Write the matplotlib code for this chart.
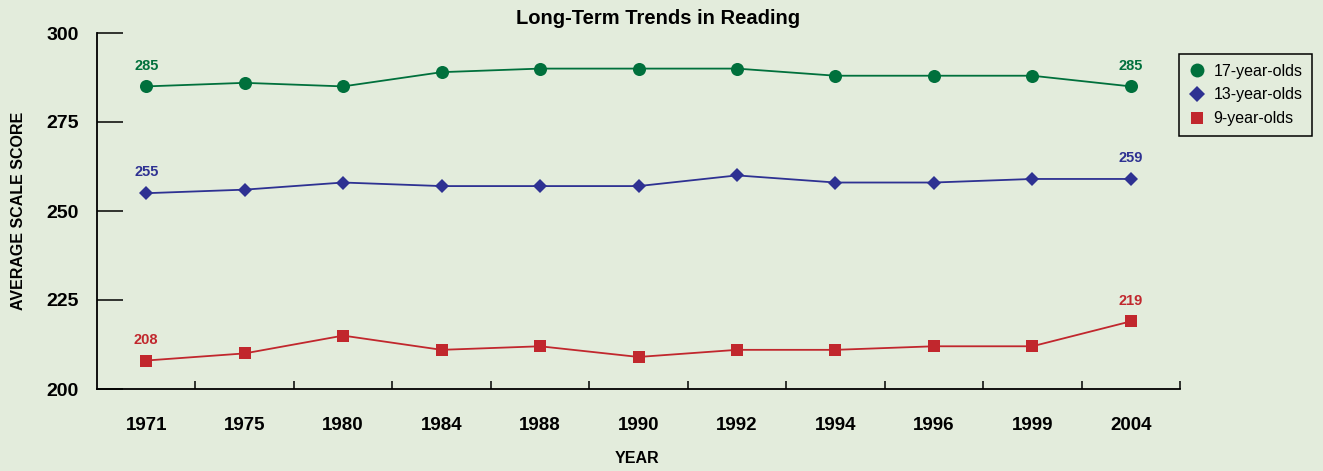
import matplotlib
matplotlib.use("Agg")
import matplotlib.pyplot as plt
from matplotlib.lines import Line2D

plt.rcParams['font.family'] = ['Liberation Sans', 'DejaVu Sans']

# data
years = ['1971', '1975', '1980', '1984', '1988', '1990', '1992', '1994', '1996', '1999', '2004']
age17 = [285, 286, 285, 289, 290, 290, 290, 288, 288, 288, 285]
age13 = [255, 256, 258, 257, 257, 257, 260, 258, 258, 259, 259]
age9 = [208, 210, 215, 211, 212, 209, 211, 211, 212, 212, 219]
series_names = ['17-year-olds', '13-year-olds', '9-year-olds']

bg = '#e3ecdc'
green = '#00703c'
blue = '#2e3192'
red = '#c1272d'

fig = plt.figure(figsize=(13.23, 4.71), dpi=100, facecolor=bg)
ax = fig.add_axes([97 / 1323, 1 - 389 / 471, (1180 - 97) / 1323, (389 - 33) / 471])
ax.set_facecolor(bg)

x = list(range(len(years)))
styles = [(age17, green, 'o', 9.4), (age13, blue, 'D', 7.0), (age9, red, 's', 8.6)]
for vals, col, mk, ms in styles:
    ax.plot(x, vals, color=col, lw=1.3, marker=mk, markersize=ms,
            markeredgewidth=0, zorder=3)
    # label first and last point
    for i in (0, len(vals) - 1):
        ax.annotate(str(vals[i]), (x[i], vals[i]), xytext=(0, 15),
                    textcoords='offset points', ha='center', va='center',
                    color=col, fontsize=10.5, fontweight='bold')

ax.set_xlim(-0.5, len(years) - 0.5)
ax.set_ylim(200, 300)

ax.spines['top'].set_visible(False)
ax.spines['right'].set_visible(False)
ax.spines['left'].set_linewidth(1.3)
ax.spines['bottom'].set_linewidth(1.3)

# y ticks pointing into the plot
ax.set_yticks([200, 225, 250, 275, 300])
ax.tick_params(axis='y', direction='in', length=18.7, width=1.1, pad=13,
               labelsize=14)
for lab in ax.get_yticklabels():
    lab.set_fontweight('bold')

# x: small ticks on category borders, labels at category centres
ax.set_xticks([i + 0.5 for i in x])
ax.tick_params(axis='x', which='major', direction='in', length=5.8, width=1.1,
               labelbottom=False)
ax.set_xticks(x, minor=True)
ax.set_xticklabels(years, minor=True, fontsize=13.5, fontweight='bold')
ax.tick_params(axis='x', which='minor', length=0, pad=20)

ax.set_ylabel('AVERAGE SCALE SCORE', fontsize=11.5, fontweight='bold')
ax.yaxis.set_label_coords((26 - 97) / 1083, 0.5)
ax.set_xlabel('YEAR', fontsize=11.5, fontweight='bold')
ax.xaxis.set_label_coords((637 - 97) / 1083, -(451 - 389) / 356)

fig.text(658 / 1323, 1 - 18 / 471, 'Long-Term Trends in Reading', ha='center',
         va='center', fontsize=14.5, fontweight='bold')

leg_sizes = [10, 8, 8.6]
handles = [Line2D([], [], color=c, marker=m, markersize=s, lw=0, markeredgewidth=0)
           for (_, c, m, _), s in zip(styles, leg_sizes)]
leg = fig.legend(handles, series_names, loc='upper left',
                 bbox_to_anchor=(1179 / 1323, 1 - 54 / 471), fontsize=11.5,
                 frameon=True, fancybox=False, edgecolor='black',
                 facecolor=bg, framealpha=1, handlelength=1.0,
                 handletextpad=0.55, labelspacing=0.55, borderpad=0.6,
                 borderaxespad=0)
leg.get_frame().set_linewidth(1.1)

fig.savefig('out.png', dpi=100, facecolor=bg)
